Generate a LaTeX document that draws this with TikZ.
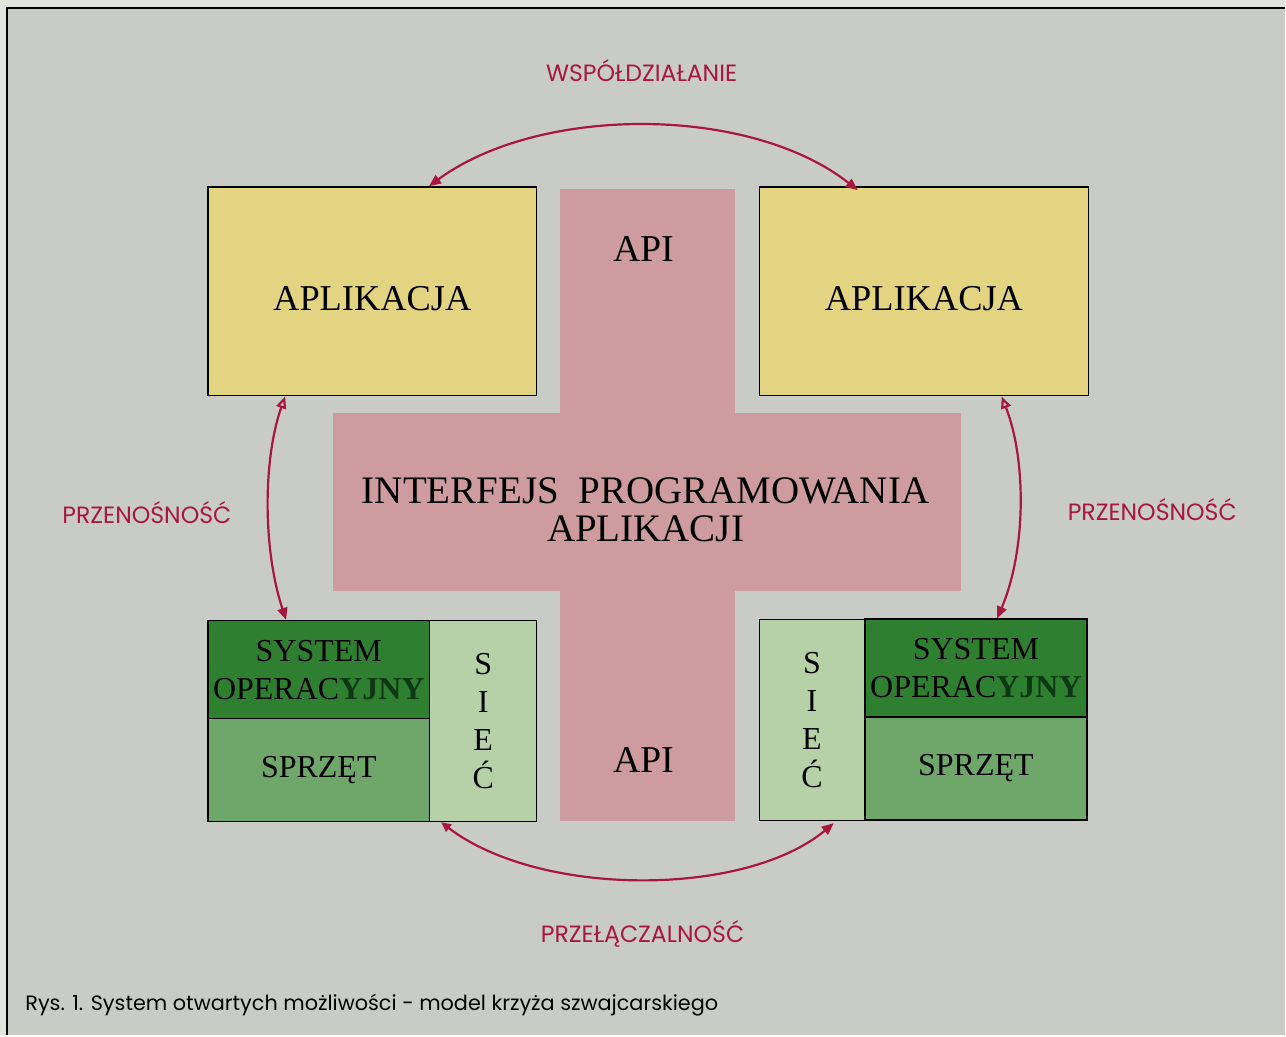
\documentclass[tikz,border=0pt]{standalone}
\usepackage{fontspec}
\setmainfont{Liberation Serif}
\newfontfamily\labfont{Poppins}
\usetikzlibrary{arrows.meta,calc}
\definecolor{bgc}{RGB}{201,204,198}
\definecolor{outc}{RGB}{226,228,222}
\definecolor{crossc}{RGB}{206,156,158}
\definecolor{yelc}{RGB}{227,212,130}
\definecolor{dgreen}{RGB}{47,127,48}
\definecolor{mgreen}{RGB}{111,166,106}
\definecolor{lgreen}{RGB}{182,209,168}
\definecolor{yjny}{RGB}{14,56,20}
\definecolor{redc}{RGB}{168,23,62}
\tikzset{
  box/.style={draw=black, line width=0.7pt, inner sep=0pt, font=\fontsize{16}{19}\selectfont, align=center},
  appbox/.style={box, fill=yelc, minimum width=164.5pt, minimum height=104.5pt, font=\fontsize{18.2}{20}\selectfont},
  sysbox/.style={box, fill=dgreen, minimum width=111pt, minimum height=49pt},
  hwbox/.style={box, fill=mgreen, minimum width=111pt, minimum height=51.5pt},
  netbox/.style={box, fill=lgreen, minimum height=100.5pt},
  lab/.style={text=redc, font=\labfont\fontsize{11.8}{13}\selectfont},
  arc/.style={draw=redc, line width=1.1pt},
  crosstext/.style={font=\fontsize{19}{22}\selectfont}
}
\newcommand{\lowtext}[1]{\raisebox{-3.5pt}[\height][0pt]{#1}}
\begin{document}
\begin{tikzpicture}[x=0.5pt,y=-0.5pt]
% background and frame
\fill[outc] (0,0) rectangle (1286,1036);
\fill[bgc] (7,8) rectangle (1286,1036);
\draw[black, line width=0.8pt] (7,1036) -- (7,8) -- (1286,8);
% cross
\fill[crossc] (560,189) rectangle (735,822);
\fill[crossc] (333,413) rectangle (962,591);
\node[crosstext] (apiT) at (644,249) {API};
\node[crosstext] (apiB) at (644,760) {API};
\node[align=center, font=\fontsize{19.5}{19}\selectfont] (ipa) at (646,510) {INTERFEJS\ \ PROGRAMOWANIA\\APLIKACJI};
% application boxes
\node[appbox] (appL) at (372.5,291.5) {\lowtext{APLIKACJA}};
\node[appbox] (appR) at (924.5,291.5) {\lowtext{APLIKACJA}};
% left platform
\node[sysbox] (sysL) at (319,670) {SYSTEM\\OPERAC{\color{yjny}\bfseries YJNY}};
\node[hwbox] (hwL) at (319,770.5) {SPRZĘT};
\node[netbox, minimum width=53.5pt] (netL) at (483.5,721.5) {S\\I\\E\\Ć};
% right platform
\node[netbox, minimum width=52.5pt] (netR) at (812.5,720.5) {S\\I\\E\\Ć};
\node[sysbox] (sysR) at (976.5,668.5) {SYSTEM\\OPERAC{\color{yjny}\bfseries YJNY}};
\node[hwbox] (hwR) at (976.5,769) {SPRZĘT};
% labels
\node[lab] (wsp) at (642,71) {WSPÓŁDZIAŁANIE};
\node[lab] (przL) at (147,513) {PRZENOŚNOŚĆ};
\node[lab] (przR) at (1153,510) {PRZENOŚNOŚĆ};
\node[lab] (prze) at (643,935) {PRZEŁĄCZALNOŚĆ};
\node[anchor=west, inner sep=0pt, font=\labfont\fontsize{10.4}{12}\selectfont] (cap) at (25,1006) {Rys. 1. System otwartych możliwości - model krzyża szwajcarskiego};
% arcs
\draw[arc, {Triangle[length=6pt,width=5pt]}-{Triangle[length=6pt,width=5pt]}]
  ($(appL.north west)+(222,0)$) .. controls (540,105) and (750,105) .. ($(appR.north west)+(99,4)$);
\draw[arc, {Triangle[open,length=6pt,width=5pt]}-{Triangle[length=6pt,width=5pt]}]
  ($(appL.south west)+(78,0)$) .. controls (263,460) and (263,550) .. ($(sysL.north west)+(79,0)$);
\draw[arc, {Triangle[open,length=6pt,width=5pt]}-{Triangle[length=6pt,width=5pt]}]
  ($(appR.south west)+(243,0)$) .. controls (1027,460) and (1027,550) .. ($(sysR.north west)+(133,0)$);
\draw[arc, {Triangle[length=5pt,width=4.5pt]}-{Triangle[length=6pt,width=5pt]}]
  ($(netL.south west)+(12,0)$) .. controls (540,898) and (745,898) .. ($(netR.south west)+(75,2)$);
\end{tikzpicture}
\end{document}
